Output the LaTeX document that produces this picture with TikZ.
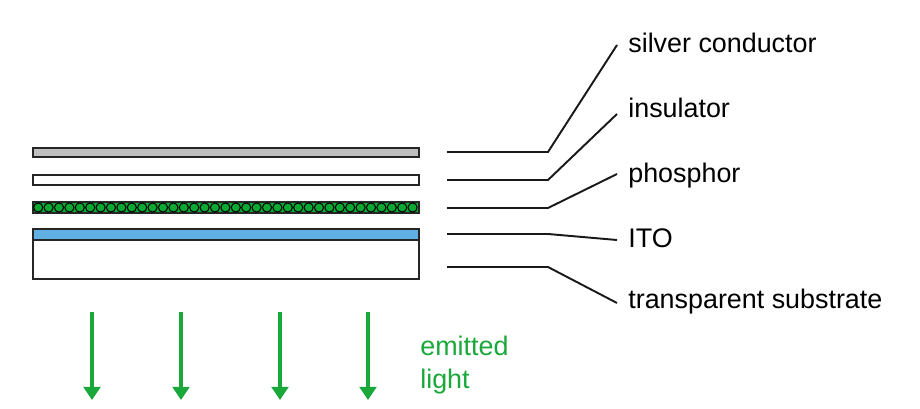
\documentclass[tikz,border=0pt]{standalone}
\usepackage{fontspec}
\setmainfont{Liberation Sans}
\usetikzlibrary{arrows.meta}
\definecolor{silvergray}{RGB}{192,192,192}
\definecolor{itoblue}{RGB}{96,176,228}
\definecolor{phosgreen}{RGB}{10,170,50}
\definecolor{lightgreen}{RGB}{26,168,58}
\tikzset{
  layer/.style={draw=black!85,line width=1.1pt},
  lbl/.style={anchor=base west,inner sep=0pt,font=\fontsize{15.3}{18.7}\selectfont},
  lead/.style={line width=1.1pt,black!90},
  ray/.style={line width=2pt,lightgreen,-{Triangle[width=9.5pt,length=7.5pt]}}
}
\begin{document}
\begin{tikzpicture}[x=0.02cm,y=-0.02cm]
\useasboundingbox (0,0) rectangle (920,409);
% layers
\draw[layer,fill=silvergray] (33,148) rectangle (419,157);
\draw[layer,fill=white] (33,175) rectangle (419,185);
\draw[layer,fill=phosgreen] (33,202) rectangle (419,213);
\foreach \i in {0,...,36}
\draw[line width=0.6pt,black,fill=phosgreen] ({38.2+\i*10.4},207.5) circle (2.6pt);
\draw[layer,fill=white] (33,229) rectangle (419,279);
\draw[layer,fill=itoblue] (33,229) rectangle (419,240);
% labels
\node[lbl] (silver) at (628,52) {silver conductor};
\node[lbl] (insul) at (628,117) {insulator};
\node[lbl] (phos) at (628,182) {phosphor};
\node[lbl] (ito) at (628,247) {ITO};
\node[lbl] (subst) at (628,308) {transparent substrate};
\coordinate (silverend) at (617,45);
\coordinate (insulend) at (617,114);
\coordinate (phosend) at (617,174);
\coordinate (itoend) at (617,240);
\coordinate (substend) at (617,303);
% leader lines
\draw[lead] (447,152) -- (548,152) -- (silverend);
\draw[lead] (447,180) -- (548,180) -- (insulend);
\draw[lead] (447,208) -- (548,208) -- (phosend);
\draw[lead] (447,234) -- (548,234) -- (itoend);
\draw[lead] (447,267) -- (548,267) -- (substend);
% light
\foreach \x in {92,181,280,368}
\draw[ray] (\x,312) -- (\x,400);
\node[lbl,align=left,text=lightgreen] (light) at (420,388) {emitted\\light};
\end{tikzpicture}
\end{document}
